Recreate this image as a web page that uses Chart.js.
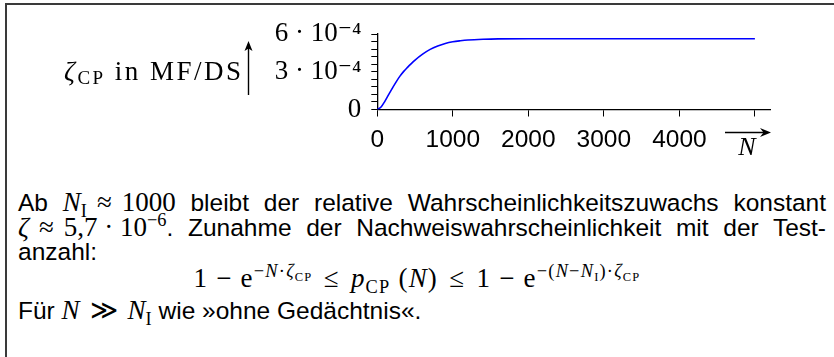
<!DOCTYPE html>
<html>
<head>
<meta charset="utf-8">
<script src="https://cdn.jsdelivr.net/npm/chart.js@4/dist/chart.umd.min.js"></script>
<style>
  html, body { margin: 0; padding: 0; background: #fff; width: 834px; height: 357px; overflow: hidden; }
  #frame { position: absolute; left: 5px; top: 3px; width: 829px; height: 354px;
           border-top: 2px solid #3a3a3a; border-left: 2px solid #3a3a3a; box-sizing: border-box; }
  #plot { position: absolute; left: 0; top: 0; }
  .line { position: absolute; font-family: "Liberation Sans", Arial, sans-serif; font-size: 24.5px;
          line-height: 26px; color: #000; white-space: nowrap; }
  .just { left: 18px; width: 808px; white-space: normal; text-align: justify; text-align-last: justify; }
  .m { font-family: "Liberation Serif", "DejaVu Serif", serif; font-size: 27px; display: inline-block; white-space: nowrap; }
  .m i { font-style: italic; }
  .m sub, .m sup { font-size: 68%; line-height: 0; font-style: normal; }
  .m sup { vertical-align: 0.55em; }
  .m sub { vertical-align: -0.3em; }
  .rel { margin: 0 0.12em; }
  #formula { position: absolute; top: 265px; left: 0; width: 834px; text-align: center; white-space: nowrap; line-height: 26px; }
</style>
</head>
<body>
<div id="frame"></div>
<canvas id="plot" width="834" height="170"></canvas>

<div class="line just" style="top:189px">Ab <span class="m"><i>N</i><sub>I</sub><span class="rel"> ≈ </span>1000</span> bleibt der relative Wahrscheinlichkeitszuwachs konstant</div>
<div class="line just" style="top:214px"><span class="m"><i>ζ</i><span class="rel"> ≈ </span>5,7 · 10<sup>−6</sup></span>. Zunahme der Nachweiswahrscheinlichkeit mit der Test-</div>
<div class="line" style="left:18px; top:239px">anzahl:</div>
<div id="formula"><span class="m" id="formulaText">1 − e<sup>−<i>N</i>·<i>ζ</i><sub>CP</sub></sup><span class="rel"> ≤ </span><i>p</i><sub>CP</sub> (<i>N</i>)<span class="rel"> ≤ </span>1 − e<sup>−(<i>N</i>−<i>N</i><sub>I</sub>)·<i>ζ</i><sub>CP</sub></sup></span></div>
<div class="line" style="left:18px; top:297px">Für <span class="m"><i>N</i><span class="rel"> ≫ </span><i>N</i><sub>I</sub></span> wie »ohne Gedächtnis«.</div>

<script>
// Test count N and the resulting ζ_CP (in MF/DS)
const testCount = [0, 50, 100, 150, 200, 250, 300, 350, 400, 450, 500, 600, 700, 800, 900,
                   1000, 1100, 1200, 1400, 1600, 2000, 3000, 4000, 5000];
const zetaCP = [0, 0.20e-4, 0.65e-4, 1.18e-4, 1.70e-4, 2.20e-4, 2.65e-4, 3.03e-4, 3.35e-4, 3.65e-4,
                3.93e-4, 4.40e-4, 4.78e-4, 5.05e-4, 5.25e-4, 5.38e-4, 5.46e-4, 5.52e-4, 5.58e-4,
                5.61e-4, 5.62e-4, 5.62e-4, 5.62e-4, 5.62e-4];

// Axis ticks and their labels
const xTicks = [0, 1000, 2000, 3000, 4000, 5000];
const xTickLabels = ['0', '1000', '2000', '3000', '4000', ''];
const yTicks = [0, 0.6e-4, 1.2e-4, 1.8e-4, 2.4e-4, 3e-4, 3.6e-4, 4.2e-4, 4.8e-4, 5.4e-4, 6e-4];
const yTickLabels = ['0', '', '', '', '', '3 · 10⁻⁴', '', '', '', '', '6 · 10⁻⁴'];

const SERIF = '"Liberation Serif", "DejaVu Serif", serif';

// Open up the display formula to its column width with a little letter spacing
(function spaceFormula() {
  const f = document.getElementById('formulaText');
  const w = f.getBoundingClientRect().width;
  const n = f.textContent.length;
  f.style.letterSpacing = Math.max(0, (447 - w) / n) + 'px';
})();

// Axis captions: ζ_CP label with an up arrow, N with a right arrow
const axisNotes = {
  id: 'axisNotes',
  afterDraw(chart) {
    const c = chart.ctx;
    const area = chart.chartArea;
    c.save();
    c.fillStyle = '#000';
    c.strokeStyle = '#000';
    c.textBaseline = 'alphabetic';

    // y caption, fitted to its slot left of the arrow
    const parts = [
      { t: 'ζ', font: 'italic 27px ' + SERIF, dy: 0 },
      { t: 'CP', font: '19px ' + SERIF, dy: 4 },
      { t: ' in MF/DS', font: '27px ' + SERIF, dy: 0 }
    ];
    const base = 80, left = 64, right = 241;
    let natural = 0, count = 0;
    parts.forEach(p => {
      c.font = p.font;
      for (const ch of p.t) { natural += c.measureText(ch).width; count++; }
    });
    const gap = Math.max(0, (right - left - natural) / (count - 1));
    let x = left;
    parts.forEach(p => {
      c.font = p.font;
      for (const ch of p.t) {
        c.fillText(ch, x, base + p.dy);
        x += c.measureText(ch).width + gap;
      }
    });

    // up arrow
    c.lineWidth = 1.4;
    c.beginPath(); c.moveTo(248.5, 95); c.lineTo(248.5, 48); c.stroke();
    c.beginPath(); c.moveTo(248.5, 41); c.lineTo(244.5, 51); c.lineTo(248.5, 48.5); c.lineTo(252.5, 51); c.closePath(); c.fill();

    // x caption
    const xr = area.right;
    const xn = chart.scales.x.getPixelForValue(5000) - 8;
    c.beginPath(); c.moveTo(xr - 45, 132.5); c.lineTo(xr - 6, 132.5); c.stroke();
    c.beginPath(); c.moveTo(xr + 1, 132.5); c.lineTo(xr - 10, 128); c.lineTo(xr - 6.5, 132.5); c.lineTo(xr - 10, 137); c.closePath(); c.fill();
    c.font = 'italic 26px ' + SERIF;
    c.textAlign = 'center';
    c.fillText('N', xn, 155);
    c.restore();
  }
};

new Chart(document.getElementById('plot').getContext('2d'), {
  type: 'line',
  data: {
    datasets: [{
      data: testCount.map((n, i) => ({ x: n, y: zetaCP[i] })),
      borderColor: '#0000ff',
      borderWidth: 1.6,
      pointRadius: 0,
      cubicInterpolationMode: 'monotone',
      fill: false
    }]
  },
  options: {
    responsive: false,
    animation: false,
    devicePixelRatio: 1,
    layout: { padding: { left: 0, top: 34, right: 64, bottom: 0 } },
    plugins: { legend: { display: false }, tooltip: { enabled: false } },
    scales: {
      x: {
        type: 'linear', min: 0, max: 5200,
        afterBuildTicks: s => { s.ticks = xTicks.map(v => ({ value: v })); },
        afterFit: s => { s.height = 60.5; },
        ticks: {
          callback: (v, i) => xTickLabels[i],
          font: { family: '"Liberation Sans", Arial, sans-serif', size: 24.5 },
          color: '#000', padding: 9, maxRotation: 0, autoSkip: false
        },
        grid: { drawOnChartArea: false, drawTicks: true, tickLength: 7, color: '#000', lineWidth: 1 },
        border: { display: true, color: '#000', width: 1.3 }
      },
      y: {
        min: 0, max: 6e-4,
        afterBuildTicks: s => { s.ticks = yTicks.map(v => ({ value: v })); },
        afterFit: s => { s.width = 377.3; },
        ticks: {
          callback: (v, i) => yTickLabels[i],
          font: { family: SERIF, size: 27 },
          color: '#000', padding: 10, autoSkip: false
        },
        grid: { drawOnChartArea: false, drawTicks: true, tickLength: 6, color: '#000', lineWidth: 1 },
        border: { display: true, color: '#000', width: 1.3 }
      }
    }
  },
  plugins: [axisNotes]
});
</script>
</body>
</html>
